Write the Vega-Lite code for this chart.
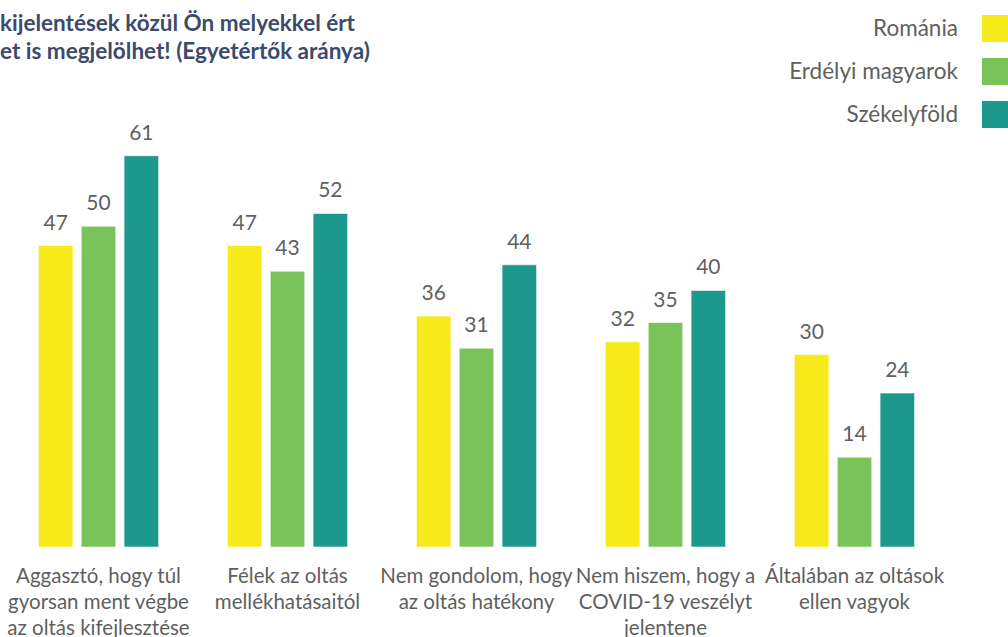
{
  "$schema": "https://vega.github.io/schema/vega-lite/v6.json",
  "width": 945,
  "height": 449,
  "autosize": {"type": "none"},
  "padding": {"left": 4, "top": 98, "right": 59, "bottom": 90},
  "background": "white",
  "config": {"view": {"stroke": null}, "font": "Lato"},
  "title": {
    "text": ["kijelentések közül Ön melyekkel ért", "et is megjelölhet! (Egyetértők aránya)"],
    "anchor": "start",
    "frame": "group",
    "fontSize": 22.5,
    "fontWeight": "bold",
    "color": "#3c4a6c",
    "font": "Lato",
    "lineHeight": 28,
    "offset": -48,
    "dx": -4
  },
  "data": {
    "values": [
      {"kategoria": "Aggasztó, hogy túl|gyorsan ment végbe|az oltás kifejlesztése", "csoport": "Románia", "ertek": 47},
      {"kategoria": "Aggasztó, hogy túl|gyorsan ment végbe|az oltás kifejlesztése", "csoport": "Erdélyi magyarok", "ertek": 50},
      {"kategoria": "Aggasztó, hogy túl|gyorsan ment végbe|az oltás kifejlesztése", "csoport": "Székelyföld", "ertek": 61},
      {"kategoria": "Félek az oltás|mellékhatásaitól", "csoport": "Románia", "ertek": 47},
      {"kategoria": "Félek az oltás|mellékhatásaitól", "csoport": "Erdélyi magyarok", "ertek": 43},
      {"kategoria": "Félek az oltás|mellékhatásaitól", "csoport": "Székelyföld", "ertek": 52},
      {"kategoria": "Nem gondolom, hogy|az oltás hatékony", "csoport": "Románia", "ertek": 36},
      {"kategoria": "Nem gondolom, hogy|az oltás hatékony", "csoport": "Erdélyi magyarok", "ertek": 31},
      {"kategoria": "Nem gondolom, hogy|az oltás hatékony", "csoport": "Székelyföld", "ertek": 44},
      {"kategoria": "Nem hiszem, hogy a|COVID-19 veszélyt|jelentene", "csoport": "Románia", "ertek": 32},
      {"kategoria": "Nem hiszem, hogy a|COVID-19 veszélyt|jelentene", "csoport": "Erdélyi magyarok", "ertek": 35},
      {"kategoria": "Nem hiszem, hogy a|COVID-19 veszélyt|jelentene", "csoport": "Székelyföld", "ertek": 40},
      {"kategoria": "Általában az oltások|ellen vagyok", "csoport": "Románia", "ertek": 30},
      {"kategoria": "Általában az oltások|ellen vagyok", "csoport": "Erdélyi magyarok", "ertek": 14},
      {"kategoria": "Általában az oltások|ellen vagyok", "csoport": "Székelyföld", "ertek": 24}
    ]
  },
  "encoding": {
    "x": {
      "field": "kategoria",
      "type": "nominal",
      "sort": null,
      "scale": {"paddingInner": 0.364, "paddingOuter": 0.182},
      "axis": {
        "title": null,
        "domain": false,
        "ticks": false,
        "labelAngle": 0,
        "labelExpr": "split(datum.label, '|')",
        "labelFontSize": 20.5,
        "labelColor": "#5f5f5f",
        "labelFont": "Lato",
        "labelLineHeight": 26,
        "labelPadding": 19,
        "labelLimit": 0,
        "labelBaseline": "top"
      }
    },
    "xOffset": {
      "field": "csoport",
      "type": "nominal",
      "sort": ["Románia", "Erdélyi magyarok", "Székelyföld"],
      "scale": {"paddingInner": 0.194, "paddingOuter": 0}
    },
    "y": {
      "field": "ertek",
      "type": "quantitative",
      "scale": {"domain": [0, 70], "nice": false},
      "axis": null
    }
  },
  "layer": [
    {
      "mark": {"type": "bar", "stroke": "#ffffff", "strokeOpacity": 0.6, "strokeWidth": 1},
      "encoding": {
        "color": {
          "field": "csoport",
          "type": "nominal",
          "sort": ["Románia", "Erdélyi magyarok", "Székelyföld"],
          "scale": {"domain": ["Románia", "Erdélyi magyarok", "Székelyföld"], "range": ["#f6ea1a", "#7ac25a", "#1d988d"]},
          "legend": {
            "orient": "none",
            "legendX": 978,
            "legendY": -83,
            "title": null,
            "symbolType": "square",
            "symbolSize": 729,
            "symbolStrokeWidth": 0,
            "symbolOpacity": 1,
            "labelAlign": "right",
            "labelOffset": -51,
            "labelFontSize": 22.5,
            "labelColor": "#5f5f5f",
            "labelFont": "Lato",
            "rowPadding": 16,
            "padding": 0,
            "labelLimit": 0
          }
        }
      }
    },
    {
      "mark": {"type": "text", "dy": -16, "baseline": "alphabetic", "fontSize": 21, "color": "#5f5f5f", "font": "Lato"},
      "encoding": {"text": {"field": "ertek", "type": "quantitative"}}
    }
  ]
}
